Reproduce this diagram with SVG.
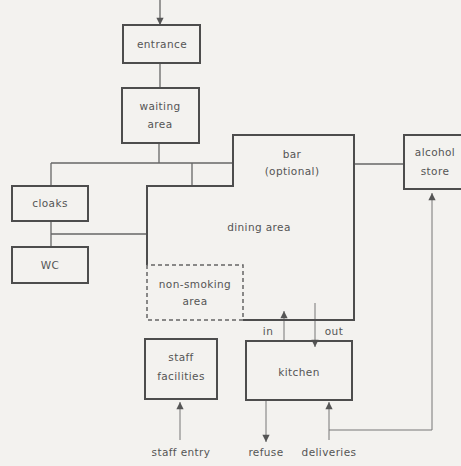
<svg xmlns="http://www.w3.org/2000/svg" width="461" height="466" viewBox="0 0 461 466">
<defs>
<style>
.bg{fill:#f3f2ef}
.box{fill:none;stroke:#4d4d4d;stroke-width:2}
.ln{fill:none;stroke:#666;stroke-width:1.3}
.thin{fill:none;stroke:#777;stroke-width:1}
.dash{fill:none;stroke:#666;stroke-width:1.5;stroke-dasharray:4,3}
text{font-family:"DejaVu Sans","Liberation Sans",sans-serif;font-size:10.5px;letter-spacing:0.4px;fill:#555;text-anchor:middle}
</style>
<marker id="ah" viewBox="0 0 8 10" refX="8" refY="5" markerWidth="9" markerHeight="9" markerUnits="userSpaceOnUse" orient="auto">
<path d="M0,1 L8,5 L0,9 Z" fill="#555"/>
</marker>
</defs>
<rect class="bg" x="0" y="0" width="461" height="466"/>
<g id="connectors">
<line class="ln" x1="160" y1="0" x2="160" y2="25" marker-end="url(#ah)"/>
<line class="ln" x1="160" y1="63" x2="160" y2="88"/>
<line class="ln" x1="159" y1="143" x2="159" y2="163"/>
<line class="ln" x1="51" y1="163" x2="233" y2="163"/>
<line class="ln" x1="51" y1="163" x2="51" y2="186"/>
<line class="ln" x1="192" y1="163" x2="192" y2="186"/>
<line class="ln" x1="51" y1="221" x2="51" y2="247"/>
<line class="ln" x1="51" y1="234" x2="147" y2="234"/>
<line class="ln" x1="354" y1="164" x2="404" y2="164"/>
<line class="thin" x1="284" y1="341" x2="284" y2="311" marker-end="url(#ah)"/>
<line class="thin" x1="315" y1="303" x2="315" y2="347" marker-end="url(#ah)"/>
<line class="thin" x1="180" y1="440" x2="180" y2="402" marker-end="url(#ah)"/>
<line class="thin" x1="266" y1="400" x2="266" y2="442" marker-end="url(#ah)"/>
<line class="thin" x1="329" y1="440" x2="329" y2="402" marker-end="url(#ah)"/>
<polyline class="thin" points="329,430 432,430 432,193" marker-end="url(#ah)"/>
</g>
<g id="entrance">
<rect class="box" x="123" y="25" width="77" height="38"/>
<text x="162" y="48">entrance</text>
</g>
<g id="waiting-area">
<rect class="box" x="122" y="88" width="77" height="55"/>
<text x="160" y="110">waiting</text>
<text x="160" y="128">area</text>
</g>
<g id="cloaks">
<rect class="box" x="12" y="186" width="76" height="35"/>
<text x="50" y="207">cloaks</text>
</g>
<g id="wc">
<rect class="box" x="12" y="247" width="76" height="36"/>
<text x="50" y="269">WC</text>
</g>
<g id="dining-area">
<path class="box" d="M147,265 V186 H233 V135 H354 V320 H243"/>
<text x="292" y="158">bar</text>
<text x="292" y="175">(optional)</text>
<text x="259" y="231">dining area</text>
</g>
<g id="non-smoking-area">
<path class="dash" d="M147,265 V320 H243 V265 H147"/>
<text x="195" y="288">non-smoking</text>
<text x="195" y="305">area</text>
</g>
<g id="alcohol-store">
<rect class="box" x="404" y="135" width="58" height="54"/>
<text x="435" y="156">alcohol</text>
<text x="435" y="175">store</text>
</g>
<g id="kitchen">
<rect class="box" x="246" y="341" width="106" height="59"/>
<text x="299" y="376">kitchen</text>
</g>
<g id="staff-facilities">
<rect class="box" x="145" y="339" width="72" height="60"/>
<text x="181" y="361">staff</text>
<text x="181" y="380">facilities</text>
</g>
<g id="labels">
<text x="268" y="335">in</text>
<text x="334" y="335">out</text>
<text x="181" y="456">staff entry</text>
<text x="266" y="456">refuse</text>
<text x="329" y="456">deliveries</text>
</g>
</svg>
